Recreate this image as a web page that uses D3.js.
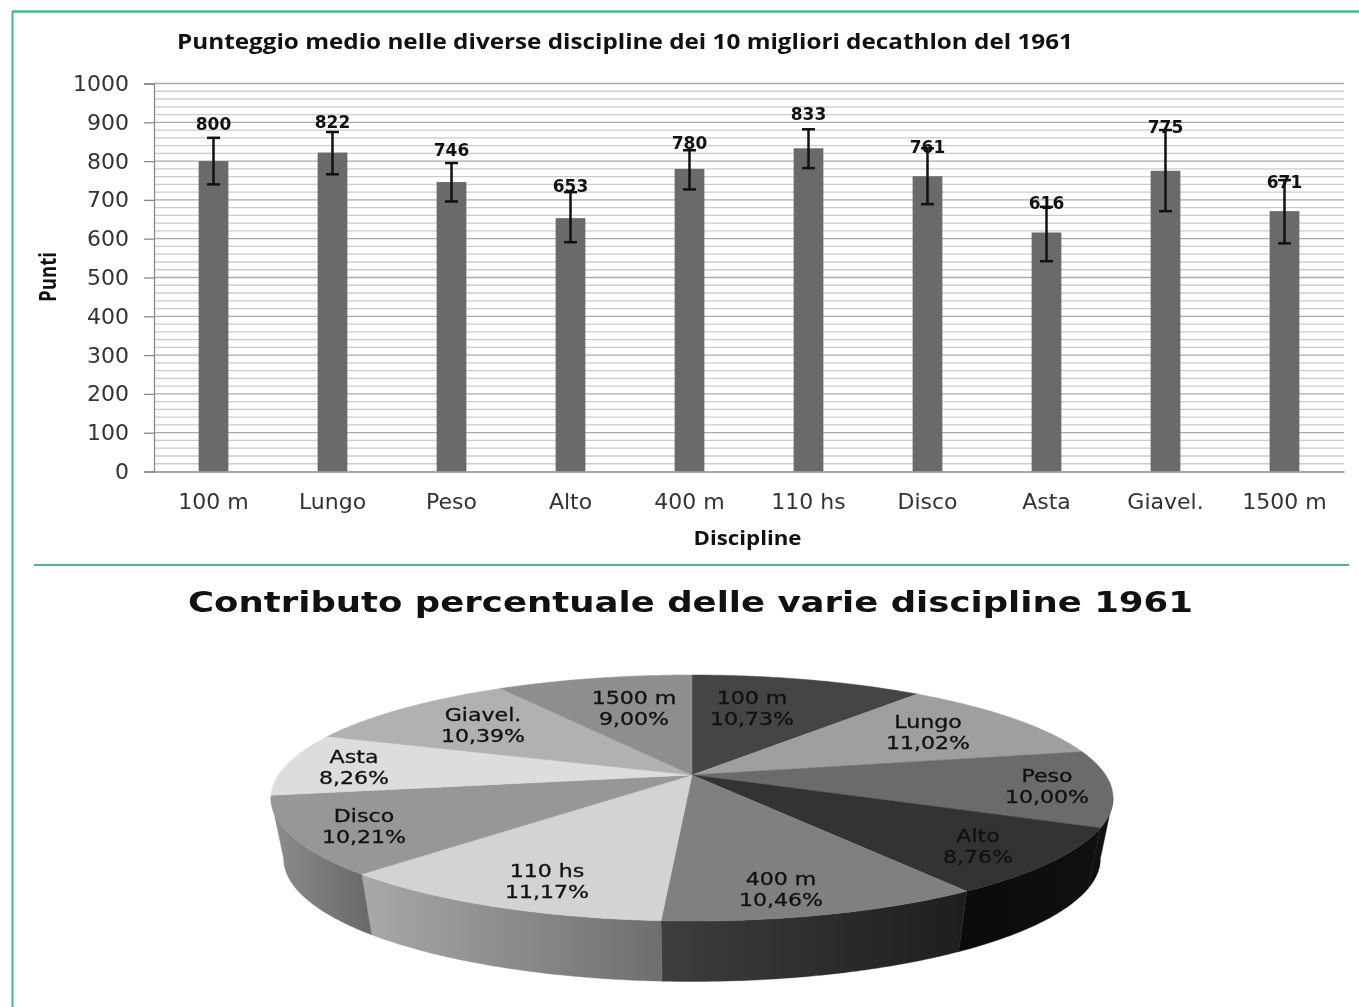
<!DOCTYPE html>
<html><head><meta charset="utf-8">
<style>
html,body{margin:0;padding:0;background:#fff;overflow:hidden}
svg{display:block;filter:blur(.45px)}
text{font-family:"DejaVu Sans",sans-serif}
</style>
<script src="https://cdn.jsdelivr.net/npm/d3@7/dist/d3.min.js"></script>
</head><body>
<svg id="c" width="1359" height="1007"></svg>
<script>
// ---- data ----
const disciplines = ["100 m","Lungo","Peso","Alto","400 m","110 hs","Disco","Asta","Giavel.","1500 m"];
const meanPoints  = [800,822,746,653,780,833,761,616,775,671];
const errLow      = [740,766,696,591,727,782,689,542,671,588];
const errHigh     = [860,875,795,720,828,882,833,682,880,751];
const yTicks      = [0,100,200,300,400,500,600,700,800,900,1000];
const sharePct    = [10.73,11.02,10.00,8.76,10.46,11.17,10.21,8.26,10.39,9.00];
const barTitle = "Punteggio medio nelle diverse discipline dei 10 migliori decathlon del 1961";
const pieTitle = "Contributo percentuale delle varie discipline 1961";

// ---- styling / layout (separate from the data) ----
const sliceFill = ["#454545","#9f9f9f","#6b6b6b","#333333","#808080","#d3d3d3","#979797","#dddddd","#b1b1b1","#8e8e8e"];
const wallFill = {2:["#161616","#0c0c0c"],3:["#101010","#0b0b0b"],4:["#1e1e1e","#3e3e3e"],5:["#6e6e6e","#a9a9a9"],6:["#686868","#8d8d8d"]};
const barLabelLift = [37,31,32,32,26,34,29,29,44,29];
const pieLabelXY = [[752,698],[928,722],[1047,776],[978,836],[781,879],[547,871],[364,816],[354,757],[483,715],[634,698]];

const svg = d3.select("#c");

// frame
const G = "#45bb8c";
svg.append("line").attr("x1",12).attr("x2",1359).attr("y1",11.5).attr("y2",11.5).attr("stroke",G).attr("stroke-width",2.4);
svg.append("line").attr("x1",12.5).attr("x2",12.5).attr("y1",11).attr("y2",1007).attr("stroke",G).attr("stroke-width",2);
svg.append("line").attr("x1",34).attr("x2",1349).attr("y1",565).attr("y2",565).attr("stroke",G).attr("stroke-width",2);

// ---- bar chart ----
const x = d3.scaleBand().domain(disciplines).range([154,1344]).paddingInner(.75).paddingOuter(.375);
const y = d3.scaleLinear().domain([0,1000]).range([471.5,83.5]);

svg.append("text").attr("x",177).attr("y",49).attr("textLength",896).attr("lengthAdjust","spacingAndGlyphs")
  .attr("font-size",22).attr("font-weight",700).attr("fill","#111").style("font-family","'Open Sans'").text(barTitle);

const minor = d3.range(0,1001,20).filter(v=>v%100!==0);
svg.append("g").selectAll("line").data(minor).join("line")
  .attr("x1",154).attr("x2",1344).attr("y1",d=>y(d)).attr("y2",d=>y(d)).attr("stroke","#cbcbcb").attr("stroke-width",1.3);
svg.append("g").selectAll("line").data(yTicks.slice(1)).join("line")
  .attr("x1",154).attr("x2",1344).attr("y1",d=>y(d)).attr("y2",d=>y(d)).attr("stroke","#aaaaaa").attr("stroke-width",1.3);

const yAxis = svg.append("g").attr("transform","translate(154,0)").call(d3.axisLeft(y).tickValues(yTicks).tickFormat(d3.format("d")).tickSize(10).tickPadding(15));
yAxis.selectAll("path,line").attr("stroke","#8a8a8a").attr("stroke-width",1.3);
yAxis.selectAll("text").attr("font-size",22).attr("fill","#333").style("font-family","'DejaVu Sans'");

svg.append("g").selectAll("rect").data(disciplines).join("rect")
  .attr("x",d=>x(d)).attr("width",x.bandwidth())
  .attr("y",(d,i)=>y(meanPoints[i])).attr("height",(d,i)=>y(0)-y(meanPoints[i])).attr("fill","#6a6a6a");

const xAxis = svg.append("g").attr("transform",`translate(0,${y(0)})`).call(d3.axisBottom(x).tickSize(0).tickPadding(22));
xAxis.selectAll("path").attr("stroke","#8a8a8a").attr("stroke-width",1.3);
xAxis.selectAll("text").attr("font-size",22).attr("fill","#333").style("font-family","'DejaVu Sans'");

const eb = svg.append("g").attr("stroke","#111").attr("stroke-width",2.5);
disciplines.forEach((d,i)=>{
  const cx = x(d)+x.bandwidth()/2;
  eb.append("line").attr("x1",cx).attr("x2",cx).attr("y1",y(errLow[i])).attr("y2",y(errHigh[i]));
  [errLow[i],errHigh[i]].forEach(v=>eb.append("line").attr("x1",cx-6.5).attr("x2",cx+6.5).attr("y1",y(v)).attr("y2",y(v)));
});

svg.append("g").selectAll("text").data(meanPoints).join("text")
  .attr("x",(d,i)=>x(disciplines[i])+x.bandwidth()/2)
  .attr("y",(d,i)=>y(d)-barLabelLift[i]+6)
  .attr("text-anchor","middle").attr("font-size",17).attr("font-weight",700).attr("fill","#111").text(d=>d);

svg.append("text").attr("transform","translate(56,277) rotate(-90)").attr("text-anchor","middle")
  .attr("textLength",50).attr("lengthAdjust","spacingAndGlyphs")
  .attr("font-size",23).attr("font-weight",700).attr("fill","#111").style("font-family","'Open Sans'").text("Punti");
svg.append("text").attr("x",747.5).attr("y",545).attr("text-anchor","middle").attr("textLength",108).attr("lengthAdjust","spacingAndGlyphs")
  .attr("font-size",20).attr("font-weight",700).attr("fill","#111").style("font-family","'Open Sans'").text("Discipline");

// ---- perspective pie ----
svg.append("text").attr("x",188).attr("y",612).attr("textLength",1005).attr("lengthAdjust","spacingAndGlyphs")
  .attr("font-size",29).attr("font-weight",700).attr("fill","#111").text(pieTitle);

const px=692, py=775, A=413.6, B=118.7, K=0.187;
const topPt = t=>{ const u=Math.sin(t), v=-Math.cos(t), w=1-K*v; return [px+A*u/w, py+B*v/w]; };
const lowPt = t=>{ const p=topPt(t); return [px+(p[0]-px)*.97, p[1]+60.5]; };
const sample=(a,b,f)=>{ const n=Math.max(2,Math.ceil((b-a)/.01)); return d3.range(n+1).map(i=>f(a+(b-a)*i/n)); };
const path = d3.line();

const arcs = d3.pie().sort(null)(sharePct);

// walls
const defs = svg.append("defs");
const wallFrom = Math.PI-Math.acos(K), wallTo = 2*Math.PI-wallFrom;
const wg = svg.append("g");
arcs.forEach((a,i)=>{
  const s=Math.max(a.startAngle,wallFrom), e=Math.min(a.endAngle,wallTo);
  if(e<=s || !wallFill[i]) return;
  const id="w"+i, g=defs.append("linearGradient").attr("id",id);
  g.append("stop").attr("offset","0").attr("stop-color",wallFill[i][1]);
  g.append("stop").attr("offset","1").attr("stop-color",wallFill[i][0]);
  const pts = sample(s,e,topPt).concat(sample(s,e,lowPt).reverse());
  wg.append("path").attr("d",path(pts)+"Z").attr("fill",`url(#${id})`).attr("stroke",`url(#${id})`).attr("stroke-width",.4);
});

// top faces
svg.append("g").selectAll("path").data(arcs).join("path")
  .attr("d",a=>path([[px,py]].concat(sample(a.startAngle,a.endAngle,topPt)))+"Z")
  .attr("fill",(a,i)=>sliceFill[i]).attr("stroke",(a,i)=>sliceFill[i]).attr("stroke-width",.5);

// labels
const fmt = v=>v.toFixed(2).replace(".",",")+"%";
const lab = svg.append("g").attr("text-anchor","middle").attr("font-size",17).attr("fill","#111").attr("stroke","#111").attr("stroke-width",.3);
disciplines.forEach((d,i)=>{
  lab.append("text").attr("transform",`translate(${pieLabelXY[i][0]},${pieLabelXY[i][1]+6}) scale(1.3,1)`).text(d);
  lab.append("text").attr("transform",`translate(${pieLabelXY[i][0]},${pieLabelXY[i][1]+27}) scale(1.3,1)`).text(fmt(sharePct[i]));
});
</script>
</body></html>
